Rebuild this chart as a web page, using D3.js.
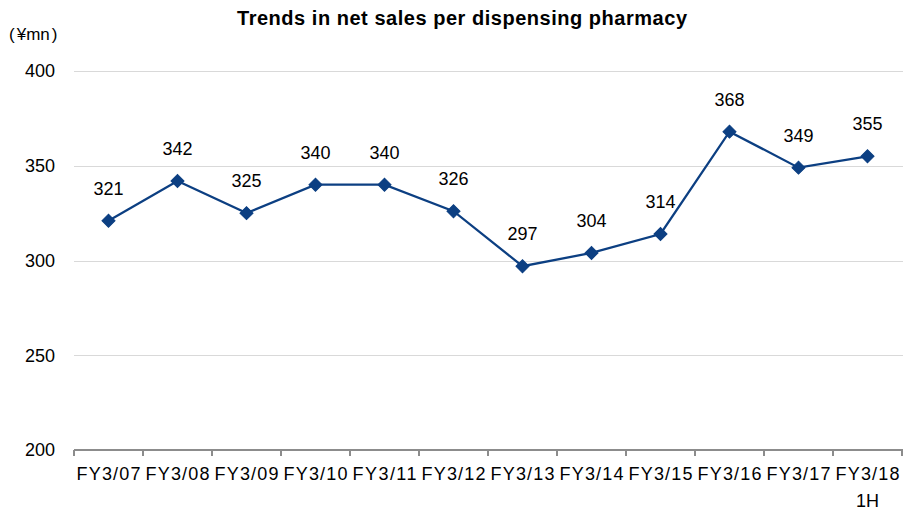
<!DOCTYPE html>
<html>
<head>
<meta charset="utf-8">
<script src="https://cdn.jsdelivr.net/npm/d3@7"></script>
<style>
  html, body { margin: 0; padding: 0; background: #fff; }
  svg { display: block; }
  text { font-family: "Liberation Sans", Arial, sans-serif; fill: #000; }
</style>
</head>
<body>
<svg id="chart" width="903" height="511"></svg>
<script>
// Fiscal periods shown on the x-axis (second line used only where present)
const periods = ["FY3/07", "FY3/08", "FY3/09", "FY3/10", "FY3/11", "FY3/12",
                 "FY3/13", "FY3/14", "FY3/15", "FY3/16", "FY3/17", "FY3/18"];
const periodSub = ["", "", "", "", "", "", "", "", "", "", "", "1H"];
// Net sales per dispensing pharmacy, ¥ million
const salesPerPharmacy = [321, 342, 325, 340, 340, 326, 297, 304, 314, 368, 349, 355];
const yTicks = [200, 250, 300, 350, 400];

const svg = d3.select("#chart");
const W = 903, H = 511;
const m = { left: 74, right: 1, top: 71, bottom: 61 };

const x = d3.scaleBand().domain(periods).range([m.left, W - m.right]).padding(0);
const y = d3.scaleLinear().domain([200, 400]).range([H - m.bottom, m.top]);
const cx = p => x(p) + x.bandwidth() / 2;

// Title
svg.append("text")
  .attr("x", 462).attr("y", 25)
  .attr("text-anchor", "middle")
  .attr("font-size", 20).attr("font-weight", "bold")
  .attr("textLength", 450).attr("lengthAdjust", "spacing")
  .text("Trends in net sales per dispensing pharmacy");

// Unit label
const unit = svg.append("text")
  .attr("x", 9).attr("y", 40)
  .attr("font-size", 17);
unit.append("tspan").text("(");
unit.append("tspan").attr("dx", 2).text("¥mn");
unit.append("tspan").attr("dx", 2).text(")");

// Horizontal gridlines
svg.append("g")
  .selectAll("line")
  .data(yTicks.filter(t => t !== 200))
  .join("line")
  .attr("x1", m.left).attr("x2", W)
  .attr("y1", d => Math.round(y(d)) + 0.5).attr("y2", d => Math.round(y(d)) + 0.5)
  .attr("stroke", "#d9d9d9").attr("stroke-width", 1);

// Y-axis tick labels
svg.append("g")
  .selectAll("text")
  .data(yTicks)
  .join("text")
  .attr("x", 55).attr("y", d => y(d))
  .attr("dy", "0.36em")
  .attr("text-anchor", "end")
  .attr("font-size", 18)
  .text(d => d);

// X-axis baseline with category boundary ticks
const xAxis = svg.append("g");
xAxis.append("line")
  .attr("x1", m.left).attr("x2", W)
  .attr("y1", y(200)).attr("y2", y(200))
  .attr("stroke", "#8c8c8c").attr("stroke-width", 2);
const boundaries = periods.map(p => x(p)).concat([x(periods[periods.length - 1]) + x.bandwidth()]);
xAxis.selectAll("line.tick")
  .data(boundaries)
  .join("line")
  .attr("class", "tick")
  .attr("x1", d => Math.min(d, W - 1)).attr("x2", d => Math.min(d, W - 1))
  .attr("y1", y(200)).attr("y2", y(200) + 6)
  .attr("stroke", "#8c8c8c").attr("stroke-width", 2);

// X-axis category labels
xAxis.selectAll("text.lab")
  .data(periods)
  .join("text")
  .attr("class", "lab")
  .attr("x", d => cx(d))
  .attr("y", y(200) + 30)
  .attr("text-anchor", "middle")
  .attr("font-size", 18)
  .attr("textLength", 64).attr("lengthAdjust", "spacing")
  .text(d => d);
xAxis.selectAll("text.sub")
  .data(periods.map((p, i) => ({ p, s: periodSub[i] })).filter(d => d.s))
  .join("text")
  .attr("class", "sub")
  .attr("x", d => cx(d.p))
  .attr("y", y(200) + 57)
  .attr("text-anchor", "middle")
  .attr("font-size", 18)
  .text(d => d.s);

// Line series
const pts = periods.map((p, i) => ({ p, v: salesPerPharmacy[i] }));
const lineColor = "#0c3f82";
svg.append("path")
  .datum(pts)
  .attr("fill", "none")
  .attr("stroke", lineColor)
  .attr("stroke-width", 2.25)
  .attr("d", d3.line().x(d => cx(d.p)).y(d => y(d.v)));

// Diamond markers
svg.append("g")
  .selectAll("path")
  .data(pts)
  .join("path")
  .attr("transform", d => `translate(${cx(d.p)},${y(d.v)}) rotate(45)`)
  .attr("d", d3.symbol().type(d3.symbolSquare).size(85))
  .attr("fill", lineColor)
  .attr("stroke", lineColor)
  .attr("stroke-width", 1);

// Value labels
svg.append("g")
  .selectAll("text")
  .data(pts)
  .join("text")
  .attr("x", d => cx(d.p))
  .attr("y", d => y(d.v) - 26)
  .attr("text-anchor", "middle")
  .attr("font-size", 18)
  .text(d => d.v);
</script>
</body>
</html>
